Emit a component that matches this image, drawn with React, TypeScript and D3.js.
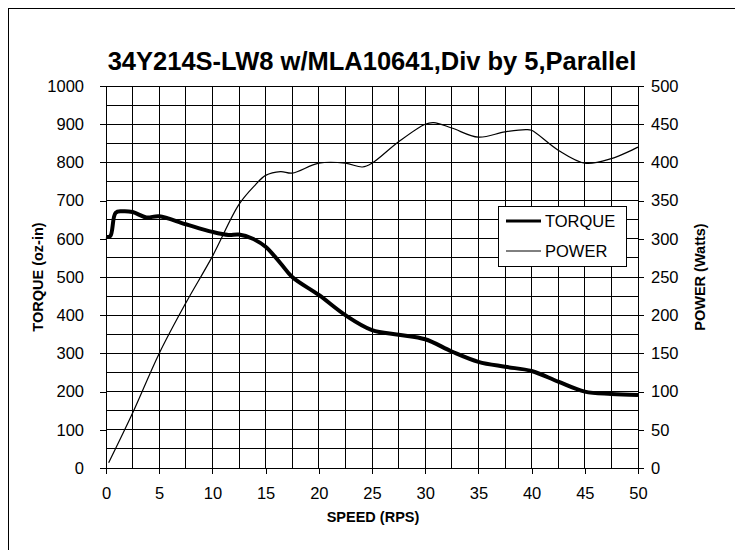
import * as d3 from 'd3';
import { useEffect, useRef } from 'react';

// torque curve (oz-in)
const torqueSpeed = [0, 0.4, 0.9, 1.5, 2.5, 3.8, 5, 7.5, 10, 11.5, 12.5, 13.8, 15, 16.4, 17.5, 20, 22.5, 25, 27.5, 30, 32.5, 35, 37.5, 40, 42.5, 45, 47.5, 50];
const torqueValues = [605, 607, 668, 672, 670, 656, 659, 638, 618, 610, 611, 600, 579, 536, 500, 453, 400, 361, 349, 337, 305, 278, 265, 254, 226, 200, 194, 191];

// power curve (Watts)
const powerSpeed = [0.25, 2.5, 5, 7.5, 10, 12.5, 14, 15, 16.4, 17.5, 20, 22.5, 24.1, 25, 27.5, 30, 30.8, 32.5, 35, 37.5, 39.5, 40, 42.5, 45, 47.5, 50];
const powerValues = [7, 72, 150, 216, 277, 345, 370, 383, 388, 386, 399, 399, 394, 399, 427, 450, 452, 445, 433, 440, 443, 442, 416, 399, 405, 420];

const speedTicks = d3.range(0, 51, 5);
const torqueTicks = d3.range(0, 1001, 100);
const powerTicks = d3.range(0, 501, 50);

const title = '34Y214S-LW8 w/MLA10641,Div by 5,Parallel';
const font = '"Liberation Sans", Arial, sans-serif';

export default function App() {
  const svgRef = useRef<SVGSVGElement>(null);

  useEffect(() => {
    const svgElement = svgRef.current;
    if (!svgElement) return;
    const root = d3.select(svgElement);
    root.selectAll('*').remove();

    const width = 735;
    const height = 550;
    const left = 106;
    const right = 638;
    const top = 86;
    const bottom = 468;

    const x = d3.scaleLinear().domain([0, 50]).range([left, right]);
    const yT = d3.scaleLinear().domain([0, 1000]).range([bottom, top]);
    const yP = d3.scaleLinear().domain([0, 500]).range([bottom, top]);

    root.attr('width', width).attr('height', height).style('font-family', font);

    root.append('rect').attr('width', width).attr('height', height).attr('fill', '#fff');

    // outer chart frame
    root
      .append('rect')
      .attr('x', 8.5)
      .attr('y', 8.5)
      .attr('width', 760)
      .attr('height', 580)
      .attr('fill', 'none')
      .attr('stroke', '#000');

    // grid
    const grid = root.append('g').attr('stroke', '#000').attr('stroke-width', 1).attr('shape-rendering', 'crispEdges');
    grid
      .selectAll('line.v')
      .data(d3.range(2.5, 50, 2.5))
      .join('line')
      .attr('class', 'v')
      .attr('x1', (d) => x(d))
      .attr('x2', (d) => x(d))
      .attr('y1', top)
      .attr('y2', bottom);
    grid
      .selectAll('line.h')
      .data(d3.range(50, 1001, 50))
      .join('line')
      .attr('class', 'h')
      .attr('x1', left)
      .attr('x2', right)
      .attr('y1', (d) => yT(d))
      .attr('y2', (d) => yT(d));

    // axes
    const fmt = d3.format('d');
    const axisLeft = d3.axisLeft(yT).tickValues(torqueTicks).tickFormat(fmt).tickSize(6).tickPadding(16);
    const axisRight = d3.axisRight(yP).tickValues(powerTicks).tickFormat(fmt).tickSize(6).tickPadding(7);
    const axisBottom = d3.axisBottom(x).tickValues(speedTicks).tickFormat(fmt).tickSize(6).tickPadding(13);

    const styleAxis = (g: any) => {
      g.select('.domain').attr('stroke', '#000').attr('stroke-width', 1.5);
      g.selectAll('.tick line').attr('stroke', '#000');
      g.selectAll('.tick text').attr('font-size', 16.5).attr('fill', '#000').style('font-family', font);
      g.attr('shape-rendering', 'crispEdges');
    };

    root.append('g').attr('transform', `translate(${left},0)`).call(axisLeft.tickSizeOuter(0)).call(styleAxis);
    root.append('g').attr('transform', `translate(${right},0)`).call(axisRight.tickSizeOuter(0)).call(styleAxis);
    root.append('g').attr('transform', `translate(0,${bottom})`).call(axisBottom.tickSizeOuter(0)).call(styleAxis);

    // curves
    const torqueData = torqueSpeed.map((s, i) => [s, torqueValues[i]] as [number, number]);
    const powerData = powerSpeed.map((s, i) => [s, powerValues[i]] as [number, number]);

    const torqueLine = d3
      .line<[number, number]>()
      .x((d) => x(d[0]))
      .y((d) => yT(d[1]))
      .curve(d3.curveCatmullRom.alpha(0.5));
    const powerLine = d3
      .line<[number, number]>()
      .x((d) => x(d[0]))
      .y((d) => yP(d[1]))
      .curve(d3.curveCatmullRom.alpha(0.5));

    root
      .append('path')
      .datum(powerData)
      .attr('d', powerLine)
      .attr('fill', 'none')
      .attr('stroke', '#000')
      .attr('stroke-width', 1.2);
    root
      .append('path')
      .datum(torqueData)
      .attr('d', torqueLine)
      .attr('fill', 'none')
      .attr('stroke', '#000')
      .attr('stroke-width', 4)
      .attr('stroke-linejoin', 'round');

    // title
    root
      .append('text')
      .attr('x', (left + right) / 2)
      .attr('y', 70)
      .attr('text-anchor', 'middle')
      .attr('font-size', 25.5)
      .attr('font-weight', 'bold')
      .text(title);

    // axis titles
    root
      .append('text')
      .attr('x', (left + right) / 2 + 1)
      .attr('y', 522)
      .attr('text-anchor', 'middle')
      .attr('font-size', 14.5)
      .attr('font-weight', 'bold')
      .text('SPEED (RPS)');
    root
      .append('text')
      .attr('transform', `translate(43,${(top + bottom) / 2}) rotate(-90)`)
      .attr('text-anchor', 'middle')
      .attr('font-size', 14.5)
      .attr('font-weight', 'bold')
      .text('TORQUE (oz-in)');
    root
      .append('text')
      .attr('transform', `translate(705,${(top + bottom) / 2}) rotate(-90)`)
      .attr('text-anchor', 'middle')
      .attr('font-size', 14.5)
      .attr('font-weight', 'bold')
      .text('POWER (Watts)');

    // legend
    const legend = root.append('g').attr('transform', 'translate(498,206)');
    legend
      .append('rect')
      .attr('x', 0.5)
      .attr('y', 0.5)
      .attr('width', 128)
      .attr('height', 60)
      .attr('fill', '#fff')
      .attr('stroke', '#000');
    const items = [
      { label: 'TORQUE', w: 3 },
      { label: 'POWER', w: 1 },
    ];
    items.forEach((item, i) => {
      const cy = 15 + i * 30;
      legend.append('line').attr('x1', 8).attr('x2', 43).attr('y1', cy).attr('y2', cy).attr('stroke', '#000').attr('stroke-width', item.w);
      legend
        .append('text')
        .attr('x', 47)
        .attr('y', cy + 6)
        .attr('font-size', 16.5)
        .text(item.label);
    });
  }, []);

  return <svg ref={svgRef} style={{ position: 'absolute', left: 0, top: 0 }} />;
}
